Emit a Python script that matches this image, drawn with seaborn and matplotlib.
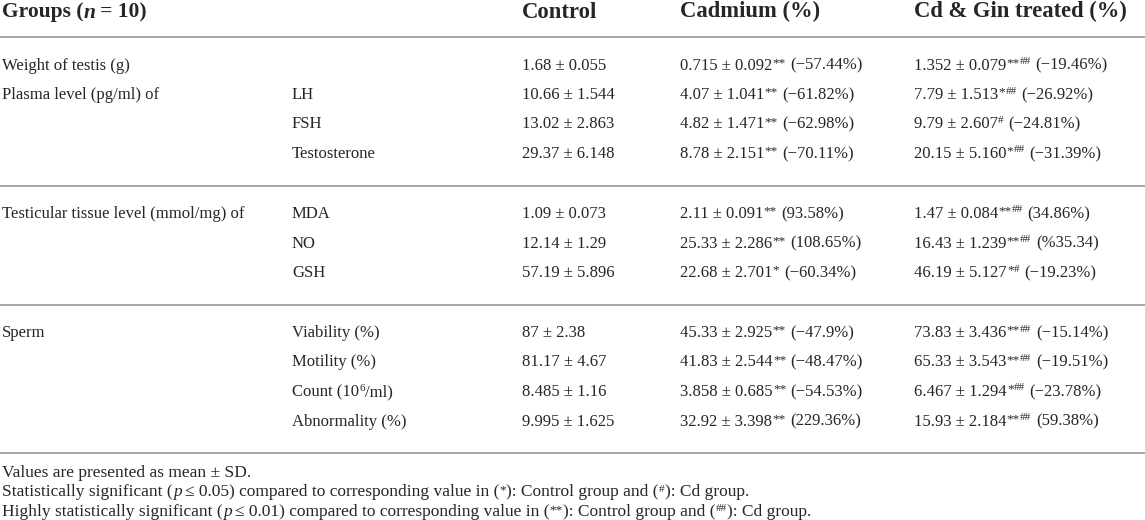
import matplotlib
matplotlib.use("Agg")
import matplotlib.pyplot as plt
import seaborn as sns

# table contents
groups = ["Weight of testis (g)", "Plasma level (pg/ml) of", "", "",
          "Testicular tissue level (mmol/mg) of", "", "",
          "Sperm", "", "", ""]
sub_labels = ["", "LH", "FSH", "Testosterone", "MDA", "NO", "GSH",
              "Viability (%)", "Motility (%)", "Count (10^6/ml)", "Abnormality (%)"]
section = [0, 0, 0, 0, 1, 1, 1, 2, 2, 2, 2]

control_mean = ["1.68", "10.66", "13.02", "29.37", "1.09", "12.14", "57.19",
                "87", "81.17", "8.485", "9.995"]
control_sd = ["0.055", "1.544", "2.863", "6.148", "0.073", "1.29", "5.896",
              "2.38", "4.67", "1.16", "1.625"]

cd_mean = ["0.715", "4.07", "4.82", "8.78", "2.11", "25.33", "22.68",
           "45.33", "41.83", "3.858", "32.92"]
cd_sd = ["0.092", "1.041", "1.471", "2.151", "0.091", "2.286", "2.701",
         "2.925", "2.544", "0.685", "3.398"]
cd_sig = ["**", "**", "**", "**", "**", "**", "*", "**", "**", "**", "**"]
cd_pct = ["(\u221257.44%)", "(\u221261.82%)", "(\u221262.98%)", "(\u221270.11%)",
          "(93.58%)", "(108.65%)", "(\u221260.34%)",
          "(\u221247.9%)", "(\u221248.47%)", "(\u221254.53%)", "(229.36%)"]

gin_mean = ["1.352", "7.79", "9.79", "20.15", "1.47", "16.43", "46.19",
            "73.83", "65.33", "6.467", "15.93"]
gin_sd = ["0.079", "1.513", "2.607", "5.160", "0.084", "1.239", "5.127",
          "3.436", "3.543", "1.294", "2.184"]
gin_sig = ["**##", "*##", "#", "*##", "**##", "**##", "*#",
           "**##", "**##", "*##", "**##"]
gin_pct = ["(\u221219.46%)", "(\u221226.92%)", "(\u221224.81%)", "(\u221231.39%)",
           "(34.86%)", "(%35.34)", "(\u221219.23%)",
           "(\u221215.14%)", "(\u221219.51%)", "(\u221223.78%)", "(59.38%)"]

headers = ["Control", "Cadmium (%)", "Cd & Gin treated (%)"]

sns.set_theme(style="white")
plt.rcParams["font.family"] = ["Liberation Serif", "DejaVu Serif"]

fig = plt.figure(figsize=(11.45, 5.2), dpi=100)
ax = fig.add_axes([0, 0, 1, 1])
ax.set_xlim(0, 1145)
ax.set_ylim(520, 0)
ax.axis("off")
renderer = fig.canvas.get_renderer()

fs = 12
sup_fs = 9.5
line_color = "#a0a0a0"
col_x = [2, 292, 522, 680, 914]
base = 5       # baseline offset from row centre
pct_gap = 4.5


def draw_runs(x, y, runs):
    # runs: (text, extra kwargs, gap before, raise)
    for s, kw, gap, rise in runs:
        x += gap
        if not s:
            continue
        t = ax.text(x, y - rise, s, va="baseline", ha="left", **kw)
        x += t.get_window_extent(renderer).width
    return x


def sig_runs(s):
    runs = []
    stars = s.replace("#", "")
    hashes = s.replace("*", "")
    if stars:
        runs.append((stars, {"fontsize": sup_fs}, 0.3, 3.5))
    if hashes:
        runs.append((hashes, {"fontsize": sup_fs - 1.5}, 0.2, 5.5))
    return runs


def cell(mean, sd, mark="", pct=""):
    txt = {"fontsize": fs}
    runs = [(f"{mean} \u00b1 {sd}", txt, 0, 0)]
    runs += sig_runs(mark)
    if pct:
        runs.append((pct, txt, pct_gap, 0))
    return runs


# header
hb = {"fontsize": 15.5, "fontweight": "bold"}
draw_runs(col_x[0], 17.5, [("Groups (", hb, 0, 0),
                           ("n", dict(hb, style="italic"), 0.5, 0),
                           ("= 10)", hb, 4.5, 0)])
for x, h in zip(col_x[2:], headers):
    ax.text(x, 17.5, h, fontsize=16.3, fontweight="bold", va="baseline", ha="left")

# row positions
y = 37
rule_ys = [y]
row_y = []
for i in range(len(groups)):
    if i == 0 or section[i] != section[i - 1]:
        if i > 0:
            y = row_y[-1] + 32.5
            rule_ys.append(y)
        y = y + 27.5
    else:
        y = y + 29.5
    row_y.append(y)
rule_ys.append(row_y[-1] + 32)

for ry in rule_ys:
    ax.axhline(ry, color=line_color, lw=1.3)

for i, ry in enumerate(row_y):
    yb = ry + base
    ax.text(col_x[0], yb, groups[i], fontsize=fs, va="baseline")
    if "^" in sub_labels[i]:
        head, rest = sub_labels[i].split("^")
        draw_runs(col_x[1], yb, [(head, {"fontsize": fs}, 0, 0),
                                 (rest[0], {"fontsize": 8}, 0.2, 5),
                                 (rest[1:], {"fontsize": fs}, 0.2, 0)])
    else:
        ax.text(col_x[1], yb, sub_labels[i], fontsize=fs, va="baseline")
    draw_runs(col_x[2], yb, cell(control_mean[i], control_sd[i]))
    draw_runs(col_x[3], yb, cell(cd_mean[i], cd_sd[i], cd_sig[i], cd_pct[i]))
    draw_runs(col_x[4], yb, cell(gin_mean[i], gin_sd[i], gin_sig[i], gin_pct[i]))

# footnotes
fn = {"fontsize": 12.5}
fsup = {"fontsize": 9.5}
fhash = {"fontsize": 8}
foot_y = [rule_ys[-1] + 24.5 + k * 19.5 for k in range(3)]
draw_runs(col_x[0], foot_y[0], [("Values are presented as mean \u00b1 SD.", fn, 0, 0)])
draw_runs(col_x[0], foot_y[1], [
    ("Statistically significant (", fn, 0, 0), ("p", dict(fn, style="italic"), 0, 0),
    ("\u2264 0.05) compared to corresponding value in (", fn, 3.2, 0),
    ("*", fsup, 0.3, 3), ("): Control group and (", fn, 0.3, 0),
    ("#", fhash, 0.3, 5), ("): Cd group.", fn, 0.3, 0)])
draw_runs(col_x[0], foot_y[2], [
    ("Highly statistically significant (", fn, 0, 0), ("p", dict(fn, style="italic"), 0, 0),
    ("\u2264 0.01) compared to corresponding value in (", fn, 3.2, 0),
    ("**", fsup, 0.3, 3), ("): Control group and (", fn, 0.3, 0),
    ("##", fhash, 0.3, 5), ("): Cd group.", fn, 0.3, 0)])

fig.savefig("out.png", dpi=100)
